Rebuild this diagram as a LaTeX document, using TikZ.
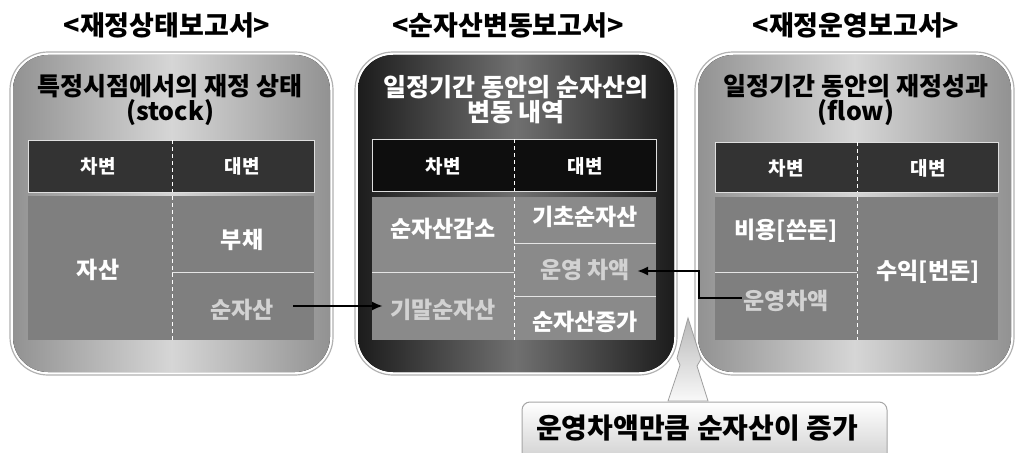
\documentclass[tikz,border=0pt]{standalone}
\usepackage{fontspec}
\setmainfont{Noto Sans CJK KR}
\usetikzlibrary{arrows.meta}
\definecolor{bodyg}{HTML}{7F7F7F}
\definecolor{bodym}{HTML}{8A8A8A}
\definecolor{hdr}{HTML}{333333}
\definecolor{hdrm}{HTML}{0E0E0E}
\definecolor{lite}{HTML}{D2D2D2}
\definecolor{pedge}{HTML}{929292}
\definecolor{pmid}{HTML}{D6D6D6}
\definecolor{dedge}{HTML}{1C1C1C}
\definecolor{dmid}{HTML}{707070}
\tikzset{
  ring/.style={draw=gray!60, line width=1.2pt, fill=white, rounded corners=38pt},
  lpanel/.style={rounded corners=35pt, left color=pedge, right color=pedge, middle color=pmid},
  dpanel/.style={rounded corners=35pt, left color=dedge, right color=dedge, middle color=dmid},
  hdrbox/.style={draw=gray!25, line width=0.8pt},
  vdiv/.style={draw=white, dashed, line width=0.8pt, dash pattern=on 4pt off 3pt},
  hline/.style={draw=gray!20, line width=1pt},
  title/.style={font=\bfseries\fontsize{27}{29}\selectfont, text=black},
  subt/.style={font=\bfseries\fontsize{25}{25}\selectfont, align=center},
  hd/.style={font=\bfseries\fontsize{19}{21}\selectfont, text=white},
  bd/.style={font=\bfseries\fontsize{23}{25}\selectfont, text=white, inner sep=1pt},
  bdl/.style={bd, text=lite},
  conn/.style={line width=2.4pt, -{Latex[length=11pt,width=9pt]}},
}
\begin{document}
\begin{tikzpicture}[x=1pt,y=-1pt]
\useasboundingbox (0,0) rectangle (1016,452);
\fill[white] (0,0) rectangle (1016,452);

% ---------- panels ----------
\draw[ring] (10,52) rectangle (333,375);
\fill[lpanel] (13,55) rectangle (330,372);
\draw[ring] (355,52) rectangle (677,375);
\fill[dpanel] (358,55) rectangle (674,372);
\draw[ring] (695,52) rectangle (1014,375);
\fill[lpanel] (698,55) rectangle (1011,372);

% ---------- titles ----------
\node[title] (t1) at (167,25) {<재정상태보고서>};
\node[title] (t2) at (508,25) {<순자산변동보고서>};
\node[title] (t3) at (856,25) {<재정운영보고서>};

% ---------- subtitles ----------
\node[subt, text=black] (s1) at (170,100) {특정시점에서의 재정 상태\\(stock)};
\node[subt, text=white] (s2) at (516,100) {일정기간 동안의 순자산의\\변동 내역};
\node[subt, text=black] (s3) at (856,100) {일정기간 동안의 재정성과\\(flow)};

% ---------- left table ----------
\fill[hdr] (28,140) rectangle (314,192);
\draw[hdrbox] (28,140) rectangle (314,192);
\draw[vdiv] (172,140) -- (172,192);
\fill[bodyg] (28,196) rectangle (314,340);
\draw[vdiv] (172,196) -- (172,340);
\draw[hline] (172,272) -- (314,272);
\node[hd] (lh1) at (98,166) {차변};
\node[hd] (lh2) at (242,166) {대변};
\node[bd] (la) at (98,270) {자산};
\node[bd] (lb1) at (242,240) {부채};
\node[bdl] (lb2) at (242,310) {순자산};

% ---------- middle table ----------
\fill[hdrm] (372,139) rectangle (656,191);
\draw[hdrbox] (372,139) rectangle (656,191);
\draw[vdiv] (514,139) -- (514,191);
\fill[bodym] (372,197) rectangle (656,340);
\draw[vdiv] (514,197) -- (514,340);
\draw[hline] (372,272) -- (514,272);
\draw[hline] (514,243) -- (656,243);
\draw[hline] (514,296) -- (656,296);
\node[hd] (mh1) at (443,166) {차변};
\node[hd] (mh2) at (585,166) {대변};
\node[bd] (ma1) at (443,229) {순자산감소};
\node[bdl] (ma2) at (443,310) {기말순자산};
\node[bd] (mb1) at (585,217) {기초순자산};
\node[bdl] (mb2) at (585,270) {운영 차액};
\node[bd] (mb3) at (585,322) {순자산증가};

% ---------- right table ----------
\fill[hdr] (715,142) rectangle (998,192);
\draw[hdrbox] (715,142) rectangle (998,192);
\draw[vdiv] (857,142) -- (857,192);
\fill[bodyg] (715,197) rectangle (998,340);
\draw[vdiv] (857,197) -- (857,340);
\draw[hline] (715,272) -- (857,272);
\node[hd] (rh1) at (786,168) {차변};
\node[hd] (rh2) at (928,168) {대변};
\node[bd] (ra1) at (786,231) {비용[쓴돈]};
\node[bdl] (ra2) at (786,301) {운영차액};
\node[bd] (rb) at (928,272) {수익[번돈]};

% ---------- connectors ----------
\draw[conn] ([xshift=51pt,yshift=4pt]lb2.center) -- ([xshift=-60pt,yshift=4pt]ma2.center);
\draw[conn] ([xshift=-44pt,yshift=3pt]ra2.center) -- ++(-43,0) |- ([xshift=52pt,yshift=-1pt]mb2.center);

% ---------- callout ----------
\shade[top color=gray!55, bottom color=gray!5, draw=gray!75, line width=0.8pt]
  (688,318) -- (677,358) -- (680,365) -- (668,401) -- (708,401) -- (697,366) -- (701,359) -- cycle;
\shade[rounded corners=8pt, top color=white, bottom color=gray!40, draw=gray!70, line width=1pt]
  (522,402) rectangle (887,466);
\node[font=\bfseries\fontsize{28}{30}\selectfont, text=black] (c) at (697,428) {운영차액만큼 순자산이 증가};
\end{tikzpicture}
\end{document}
